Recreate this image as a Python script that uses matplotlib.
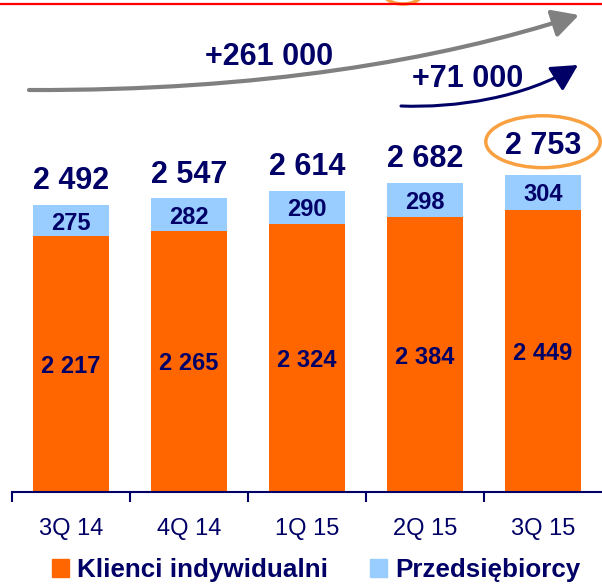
import matplotlib
matplotlib.use("Agg")
import matplotlib.pyplot as plt
from matplotlib.patches import FancyArrowPatch, Ellipse, Patch
from matplotlib.path import Path
import numpy as np

plt.rcParams['font.family'] = ['Liberation Sans', 'DejaVu Sans']

# data
quarters = ['3Q 14', '4Q 14', '1Q 15', '2Q 15', '3Q 15']
individual = [2217, 2265, 2324, 2384, 2449]
business = [275, 282, 290, 298, 304]
totals = [2492, 2547, 2614, 2682, 2753]
growth_year = '+261 000'
growth_quarter = '+71 000'

navy = '#000066'
orange = '#FF6600'
lightblue = '#99CCFF'

W, H = 602, 584
fig = plt.figure(figsize=(W / 100, H / 100), dpi=100)
ax = fig.add_axes([12 / W, (H - 492) / H, 1 - 12 / W, 492 / H])

x = np.arange(len(quarters))
ax.bar(x, individual, width=0.64, color=orange, zorder=2)
ax.bar(x, business, width=0.64, bottom=individual, color=lightblue, zorder=2)

for xi, ind, bus, tot in zip(x, individual, business, totals):
    ax.text(xi, ind / 2, f"{ind // 1000} {ind % 1000:03d}", ha='center', va='center_baseline',
            fontsize=17, fontweight='bold', color=navy)
    ax.text(xi, ind + bus / 2, str(bus), ha='center', va='center_baseline',
            fontsize=17, fontweight='bold', color=navy)
    off = 15 if xi == x[-1] else 11
    ax.annotate(f"{tot // 1000} {tot % 1000:03d}", (xi, tot), xytext=(0, off),
                textcoords='offset points', ha='center', va='baseline',
                fontsize=22, fontweight='bold', color=navy)

# highlight the latest total
ax.add_patch(Ellipse((x[-1], totals[-1] + 285), 0.97, 450, fill=False,
                     edgecolor='#F9A040', lw=2.5, clip_on=False, zorder=3))

ax.set_xlim(-0.5, 4.5)
ax.set_ylim(0, 4267)
for s in ['top', 'right', 'left']:
    ax.spines[s].set_visible(False)
ax.spines['bottom'].set_color(navy)
ax.spines['bottom'].set_linewidth(1.5)
ax.set_yticks([])
ax.set_xticks(x)
ax.set_xticklabels(quarters, fontsize=17, color=navy)
ax.tick_params(axis='x', which='major', length=0, pad=19)
ax.set_xticks(np.arange(-0.5, 4.0, 1.0), minor=True)
ax.tick_params(axis='x', which='minor', length=7, width=1.5, color=navy, direction='out')

# overlay for arrows in pixel space
ov = fig.add_axes([0, 0, 1, 1])
ov.set_xlim(0, W)
ov.set_ylim(H, 0)
ov.axis('off')

ov.plot([0, W], [4, 4], color='red', lw=1.6)
ov.add_patch(Ellipse((403, -8), 40, 24, fill=False, edgecolor='#F9A040', lw=2.5))

gray_path = Path([(29, 90), (260, 91), (440, 60), (579, 15)],
                 [Path.MOVETO, Path.CURVE4, Path.CURVE4, Path.CURVE4])
ov.add_patch(FancyArrowPatch(path=gray_path, arrowstyle='-|>,head_length=16,head_width=8.5',
                             color='#808080', lw=3, mutation_scale=1))
navy_path = Path([(401, 106), (455, 108), (525, 98), (578, 65)],
                 [Path.MOVETO, Path.CURVE4, Path.CURVE4, Path.CURVE4])
ov.add_patch(FancyArrowPatch(path=navy_path, arrowstyle='-|>,head_length=16,head_width=8.5',
                             color=navy, lw=2.2, mutation_scale=1))

ov.text(269, 53.5, growth_year, ha='center', va='center_baseline', fontsize=22,
        fontweight='bold', color=navy)
ov.text(468, 75.5, growth_quarter, ha='center', va='center_baseline', fontsize=22,
        fontweight='bold', color=navy)

handles = [Patch(color=orange, label='Klienci indywidualni'),
           Patch(color=lightblue, label='Przedsiębiorcy')]
fig.legend(handles=handles, loc='center left', bbox_to_anchor=(52 / W, 1 - 570 / H),
           ncol=2, frameon=False, borderpad=0, borderaxespad=0,
           handlelength=0.65, handleheight=0.65, handletextpad=0.32, columnspacing=1.6,
           prop={'size': 18.7, 'weight': 'bold'}, labelcolor=navy)

fig.savefig('out.png', dpi=100)
